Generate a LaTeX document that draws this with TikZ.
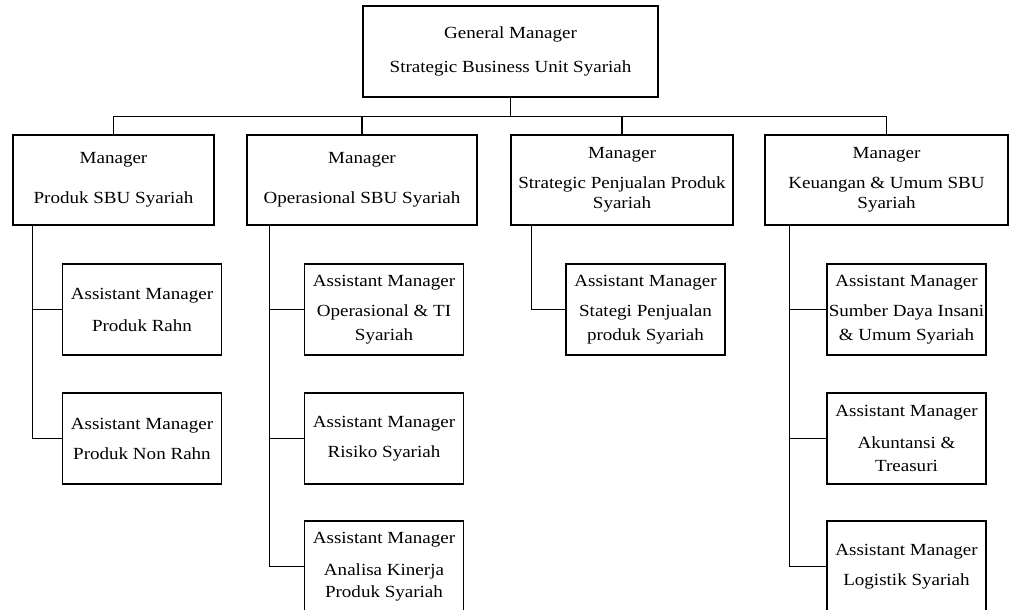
\documentclass[tikz,border=0pt]{standalone}
\usepackage{fontspec}
\setmainfont{Liberation Serif}[FakeStretch=1.12]
\usepackage{tikz}
\usetikzlibrary{positioning}

\begin{document}
\begin{tikzpicture}[
    x=1pt, y=-1pt,
    line width=1.3pt,
    gmbox/.style={
        rectangle,
        draw=black,
        inner sep=0pt,
        minimum width=295pt,
        minimum height=91pt,
        align=center,
        font=\fontsize{17}{20}\selectfont
    },
    mgrbox/.style={
        rectangle,
        draw=black,
        inner sep=0pt,
        minimum height=90pt,
        align=center,
        font=\fontsize{17}{20}\selectfont
    },
    asstbox/.style={
        rectangle,
        draw=black,
        fill=white,
        inner sep=0pt,
        minimum width=159pt,
        minimum height=91pt,
        align=center,
        font=\fontsize{17}{20}\selectfont
    }
]
\useasboundingbox (0,0) rectangle (1010,610);
\clip (0,0) rectangle (1010,610);

% Top of the chart
\node[gmbox] (gm) at (510.5, 51.5) {General Manager\\[14pt]Strategic Business Unit Syariah};

% Managers
\node[mgrbox, minimum width=201pt] (m1) at (113.5, 180) {Manager\\[20pt]Produk SBU Syariah};
\node[mgrbox, minimum width=230pt] (m2) at (362, 180) {Manager\\[20pt]Operasional SBU Syariah};
\node[mgrbox, minimum width=222pt] (m3) at (622, 180) {Manager\\[10pt]Strategic Penjualan Produk\\Syariah};
\node[mgrbox, minimum width=243pt] (m4) at (886.5, 180) {Manager\\[10pt]Keuangan \& Umum SBU\\Syariah};

\foreach \m in {m1,m2,m3,m4}
    \draw (gm.south) -- ++(0,19) -| (\m.north);

% Assistant managers
\node[asstbox] (a11) at (142, 309.5) {Assistant Manager\\[12pt]Produk Rahn};
\node[asstbox] (a12) at (142, 438.5) {Assistant Manager\\[10pt]Produk Non Rahn};

\node[asstbox] (a21) at (384, 309.5) {Assistant Manager\\[10pt]Operasional \& TI\\[4pt]Syariah};
\node[asstbox] (a22) at (384, 438.5) {Assistant Manager\\[10pt]Risiko Syariah};
\node[asstbox] (a23) at (384, 566.5) {Assistant Manager\\[12pt]Analisa Kinerja\\[2pt]Produk Syariah};

\node[asstbox] (a31) at (645.5, 309.5) {Assistant Manager\\[10pt]Stategi Penjualan\\[4pt]produk Syariah};

\node[asstbox] (a41) at (906.5, 309.5) {Assistant Manager\\[10pt]Sumber Daya Insani\\[4pt]\& Umum Syariah};
\node[asstbox] (a42) at (906.5, 438.5) {Assistant Manager\\[12pt]Akuntansi \&\\[3pt]Treasuri};
\node[asstbox] (a43) at (906.5, 566.5) {Assistant Manager\\[10pt]Logistik Syariah};

% Lines down to the assistants
\draw ([xshift=20pt]m1.south west) |- (a11.west);
\draw ([xshift=20pt]m1.south west) |- (a12.west);
\draw ([xshift=23pt]m2.south west) |- (a21.west);
\draw ([xshift=23pt]m2.south west) |- (a22.west);
\draw ([xshift=23pt]m2.south west) |- (a23.west);
\draw ([xshift=21pt]m3.south west) |- (a31.west);
\draw ([xshift=25pt]m4.south west) |- (a41.west);
\draw ([xshift=25pt]m4.south west) |- (a42.west);
\draw ([xshift=25pt]m4.south west) |- (a43.west);

\end{tikzpicture}
\end{document}
